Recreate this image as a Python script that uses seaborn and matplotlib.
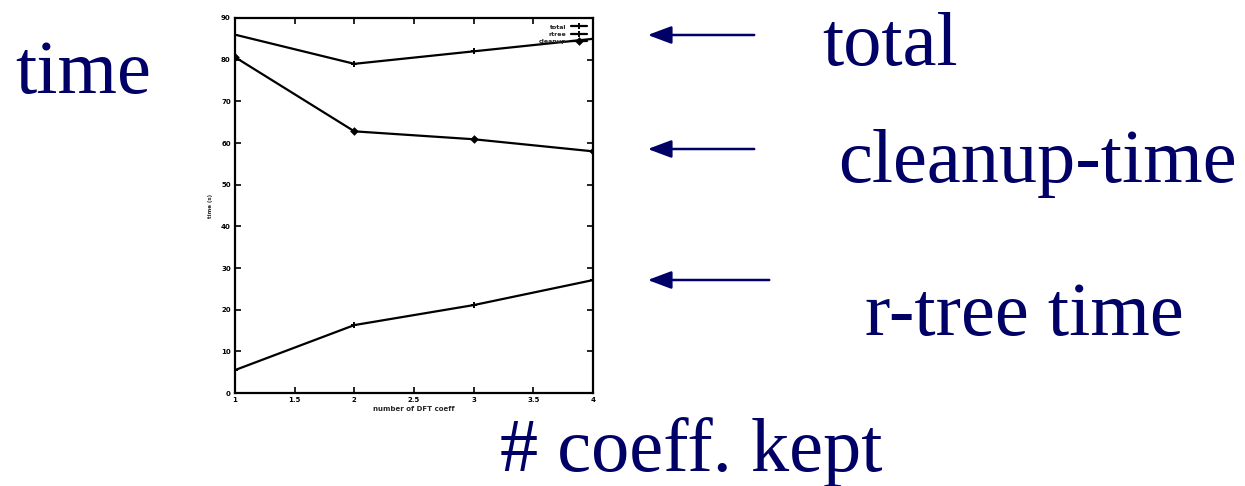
import matplotlib
matplotlib.use("Agg")
import matplotlib.pyplot as plt
import seaborn as sns
import pandas as pd

# number of DFT coefficients kept vs. time
coeffs = [1, 2, 3, 4]
total_time = [86.0, 79.0, 82.0, 85.0]
rtree_time = [5.5, 16.3, 21.1, 27.1]
cleanup_time = [80.6, 62.8, 60.9, 58.0]

x_ticks = [1, 1.5, 2, 2.5, 3, 3.5, 4]
x_tick_labels = ["1", "1.5", "2", "2.5", "3", "3.5", "4"]
y_ticks = [0, 10, 20, 30, 40, 50, 60, 70, 80, 90]

series_names = ["total", "rtree", "cleanup"]
series_markers = ["+", "+", "D"]
series_msize = [4, 4, 3]

df = pd.DataFrame({
    "coeffs": coeffs * 3,
    "time": total_time + rtree_time + cleanup_time,
    "series": [s for s in series_names for _ in coeffs],
})

sns.set_theme(style="white")
plt.rcParams["font.family"] = ["DejaVu Sans"]

navy = "#000066"

fig = plt.figure(figsize=(12.45, 4.86), dpi=100)
ax = fig.add_axes([235 / 1245, 1 - 393 / 486, (593 - 235) / 1245, (393 - 18) / 486])

for name, marker, ms in zip(series_names, series_markers, series_msize):
    sub = df[df["series"] == name]
    sns.lineplot(data=sub, x="coeffs", y="time", ax=ax, color="black",
                 linewidth=1.6, marker=marker, markersize=ms,
                 markeredgecolor="black", markeredgewidth=1.4,
                 label=name, legend=False)

ax.set_xlim(1, 4)
ax.set_ylim(0, 90)
ax.set_xticks(x_ticks)
ax.set_xticklabels(x_tick_labels, fontsize=5, fontweight="bold")
ax.set_yticks(y_ticks)
ax.set_yticklabels([str(v) for v in y_ticks], fontsize=5, fontweight="bold")
ax.tick_params(direction="in", length=4, width=1.2, top=True, right=True,
               bottom=True, left=True, pad=3, colors="black")
for sp in ax.spines.values():
    sp.set_color("black")
    sp.set_linewidth(1.6)
ax.set_xlabel("number of DFT coeff", fontsize=5, fontweight="bold", labelpad=2)
ax.set_ylabel("time (s)", fontsize=4, fontweight="bold", labelpad=6)

leg = ax.legend(loc="upper right", frameon=False, fontsize=4.5,
                handlelength=2.5, borderaxespad=0.6, labelspacing=0.3,
                markerfirst=False)
for t in leg.get_texts():
    t.set_fontweight("bold")

serif = ["Liberation Serif", "DejaVu Serif"]
fs = 55
fig.text(15 / 1245, 1 - 75 / 486, "time", fontsize=fs, family=serif,
         color=navy, va="center", ha="left")
fig.text(822 / 1245, 1 - 46 / 486, "total", fontsize=fs, family=serif,
         color=navy, va="center", ha="left")
fig.text(838 / 1245, 1 - 163 / 486, "cleanup-time", fontsize=fs, family=serif,
         color=navy, va="center", ha="left")
fig.text(865 / 1245, 1 - 316 / 486, "r-tree time", fontsize=fs, family=serif,
         color=navy, va="center", ha="left")
fig.text(500 / 1245, 1 - 452 / 486, "# coeff. kept", fontsize=fs, family=serif,
         color=navy, va="center", ha="left")

for x0, y0 in [(757, 35), (757, 149), (772, 280)]:
    fig.add_artist(matplotlib.patches.FancyArrowPatch(
        (x0 / 1245, 1 - y0 / 486), (645 / 1245, 1 - y0 / 486),
        transform=fig.transFigure, arrowstyle="-|>,head_length=1.2,head_width=0.45",
        mutation_scale=12, color=navy, linewidth=1.8))

fig.savefig("out.png", dpi=100, facecolor="white")
